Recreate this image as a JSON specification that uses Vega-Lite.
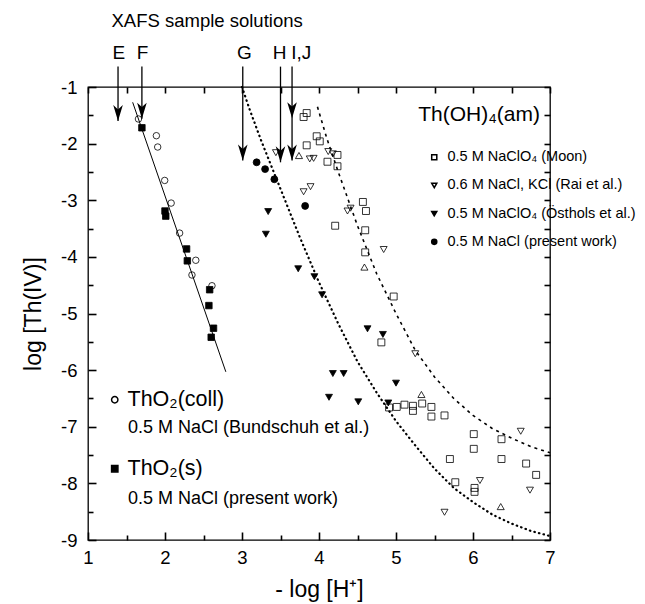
{
  "$schema": "https://vega.github.io/schema/vega-lite/v6.json",
  "width": 462,
  "height": 453,
  "autosize": {"type": "none"},
  "padding": {"left": 88, "top": 87, "right": 95, "bottom": 64},
  "background": "white",
  "config": {
    "font": "Liberation Sans",
    "view": {"stroke": "black", "strokeWidth": 1.3},
    "axis": {"domain": false, "grid": false, "ticks": true, "tickColor": "#000000", "tickOpacity": 1, "tickWidth": 1.6, "labelColor": "black", "titleColor": "black", "labelFont": "Liberation Sans", "titleFont": "Liberation Sans", "titleFontWeight": "normal", "labelFontSize": 18.5, "titleFontSize": 23, "labelFlush": false, "labelOverlap": false}
  },
  "datasets": {
    "thoh": [
      {"x": 3.80, "y": -1.53, "source": "0.5 M NaClO₄ (Moon)"},
      {"x": 3.84, "y": -1.46, "source": "0.5 M NaClO₄ (Moon)"},
      {"x": 3.84, "y": -2.03, "source": "0.5 M NaClO₄ (Moon)"},
      {"x": 3.97, "y": -1.87, "source": "0.5 M NaClO₄ (Moon)"},
      {"x": 4.01, "y": -1.96, "source": "0.5 M NaClO₄ (Moon)"},
      {"x": 4.11, "y": -2.32, "source": "0.5 M NaClO₄ (Moon)"},
      {"x": 4.24, "y": -2.20, "source": "0.5 M NaClO₄ (Moon)"},
      {"x": 4.24, "y": -2.40, "source": "0.5 M NaClO₄ (Moon)"},
      {"x": 4.57, "y": -3.03, "source": "0.5 M NaClO₄ (Moon)"},
      {"x": 4.61, "y": -3.19, "source": "0.5 M NaClO₄ (Moon)"},
      {"x": 4.21, "y": -3.45, "source": "0.5 M NaClO₄ (Moon)"},
      {"x": 4.60, "y": -3.53, "source": "0.5 M NaClO₄ (Moon)"},
      {"x": 4.60, "y": -3.92, "source": "0.5 M NaClO₄ (Moon)"},
      {"x": 4.97, "y": -4.70, "source": "0.5 M NaClO₄ (Moon)"},
      {"x": 4.81, "y": -5.51, "source": "0.5 M NaClO₄ (Moon)"},
      {"x": 4.91, "y": -6.66, "source": "0.5 M NaClO₄ (Moon)"},
      {"x": 5.01, "y": -6.65, "source": "0.5 M NaClO₄ (Moon)"},
      {"x": 5.11, "y": -6.61, "source": "0.5 M NaClO₄ (Moon)"},
      {"x": 5.22, "y": -6.63, "source": "0.5 M NaClO₄ (Moon)"},
      {"x": 5.22, "y": -6.72, "source": "0.5 M NaClO₄ (Moon)"},
      {"x": 5.34, "y": -6.59, "source": "0.5 M NaClO₄ (Moon)"},
      {"x": 5.46, "y": -6.65, "source": "0.5 M NaClO₄ (Moon)"},
      {"x": 5.46, "y": -6.82, "source": "0.5 M NaClO₄ (Moon)"},
      {"x": 5.63, "y": -6.80, "source": "0.5 M NaClO₄ (Moon)"},
      {"x": 6.01, "y": -7.13, "source": "0.5 M NaClO₄ (Moon)"},
      {"x": 6.01, "y": -7.39, "source": "0.5 M NaClO₄ (Moon)"},
      {"x": 5.70, "y": -7.57, "source": "0.5 M NaClO₄ (Moon)"},
      {"x": 6.37, "y": -7.22, "source": "0.5 M NaClO₄ (Moon)"},
      {"x": 6.37, "y": -7.57, "source": "0.5 M NaClO₄ (Moon)"},
      {"x": 6.69, "y": -7.65, "source": "0.5 M NaClO₄ (Moon)"},
      {"x": 6.82, "y": -7.85, "source": "0.5 M NaClO₄ (Moon)"},
      {"x": 5.77, "y": -7.98, "source": "0.5 M NaClO₄ (Moon)"},
      {"x": 6.02, "y": -8.08, "source": "0.5 M NaClO₄ (Moon)"},
      {"x": 6.02, "y": -8.15, "source": "0.5 M NaClO₄ (Moon)"},
      {"x": 3.44, "y": -2.16, "source": "0.6 M NaCl, KCl (Rai et al.)"},
      {"x": 3.88, "y": -2.27, "source": "0.6 M NaCl, KCl (Rai et al.)"},
      {"x": 3.93, "y": -2.26, "source": "0.6 M NaCl, KCl (Rai et al.)"},
      {"x": 4.12, "y": -2.14, "source": "0.6 M NaCl, KCl (Rai et al.)"},
      {"x": 4.18, "y": -2.18, "source": "0.6 M NaCl, KCl (Rai et al.)"},
      {"x": 3.80, "y": -2.85, "source": "0.6 M NaCl, KCl (Rai et al.)"},
      {"x": 3.89, "y": -2.76, "source": "0.6 M NaCl, KCl (Rai et al.)"},
      {"x": 4.37, "y": -3.19, "source": "0.6 M NaCl, KCl (Rai et al.)"},
      {"x": 4.41, "y": -3.14, "source": "0.6 M NaCl, KCl (Rai et al.)"},
      {"x": 4.84, "y": -3.87, "source": "0.6 M NaCl, KCl (Rai et al.)"},
      {"x": 5.25, "y": -5.71, "source": "0.6 M NaCl, KCl (Rai et al.)"},
      {"x": 6.62, "y": -7.08, "source": "0.6 M NaCl, KCl (Rai et al.)"},
      {"x": 6.09, "y": -7.95, "source": "0.6 M NaCl, KCl (Rai et al.)"},
      {"x": 6.74, "y": -8.12, "source": "0.6 M NaCl, KCl (Rai et al.)"},
      {"x": 5.63, "y": -8.51, "source": "0.6 M NaCl, KCl (Rai et al.)"},
      {"x": 3.34, "y": -3.20, "source": "0.5 M NaClO₄ (Östhols et al.)"},
      {"x": 3.31, "y": -3.60, "source": "0.5 M NaClO₄ (Östhols et al.)"},
      {"x": 3.73, "y": -4.21, "source": "0.5 M NaClO₄ (Östhols et al.)"},
      {"x": 3.94, "y": -4.35, "source": "0.5 M NaClO₄ (Östhols et al.)"},
      {"x": 4.04, "y": -4.67, "source": "0.5 M NaClO₄ (Östhols et al.)"},
      {"x": 4.63, "y": -5.27, "source": "0.5 M NaClO₄ (Östhols et al.)"},
      {"x": 4.83, "y": -5.37, "source": "0.5 M NaClO₄ (Östhols et al.)"},
      {"x": 4.18, "y": -6.06, "source": "0.5 M NaClO₄ (Östhols et al.)"},
      {"x": 4.32, "y": -6.06, "source": "0.5 M NaClO₄ (Östhols et al.)"},
      {"x": 5.00, "y": -6.23, "source": "0.5 M NaClO₄ (Östhols et al.)"},
      {"x": 4.13, "y": -6.48, "source": "0.5 M NaClO₄ (Östhols et al.)"},
      {"x": 4.51, "y": -6.56, "source": "0.5 M NaClO₄ (Östhols et al.)"},
      {"x": 4.90, "y": -6.58, "source": "0.5 M NaClO₄ (Östhols et al.)"},
      {"x": 3.19, "y": -2.33, "source": "0.5 M NaCl (present work)"},
      {"x": 3.30, "y": -2.45, "source": "0.5 M NaCl (present work)"},
      {"x": 3.42, "y": -2.63, "source": "0.5 M NaCl (present work)"},
      {"x": 3.82, "y": -3.10, "source": "0.5 M NaCl (present work)"}
    ],
    "up": [
      {"x": 3.74, "y": -2.21},
      {"x": 4.59, "y": -4.18},
      {"x": 5.33, "y": -6.43},
      {"x": 6.36, "y": -8.41}
    ],
    "tho2": [
      {"x": 1.655, "y": -1.565, "phase": "ThO₂(coll)"},
      {"x": 1.888, "y": -1.86, "phase": "ThO₂(coll)"},
      {"x": 1.905, "y": -2.06, "phase": "ThO₂(coll)"},
      {"x": 1.996, "y": -2.65, "phase": "ThO₂(coll)"},
      {"x": 2.08, "y": -3.05, "phase": "ThO₂(coll)"},
      {"x": 2.19, "y": -3.58, "phase": "ThO₂(coll)"},
      {"x": 2.40, "y": -4.06, "phase": "ThO₂(coll)"},
      {"x": 2.35, "y": -4.32, "phase": "ThO₂(coll)"},
      {"x": 2.61, "y": -4.51, "phase": "ThO₂(coll)"},
      {"x": 1.70, "y": -1.72, "phase": "ThO₂(s)"},
      {"x": 2.00, "y": -3.19, "phase": "ThO₂(s)"},
      {"x": 2.01, "y": -3.28, "phase": "ThO₂(s)"},
      {"x": 2.28, "y": -3.86, "phase": "ThO₂(s)"},
      {"x": 2.29, "y": -4.07, "phase": "ThO₂(s)"},
      {"x": 2.58, "y": -4.58, "phase": "ThO₂(s)"},
      {"x": 2.57, "y": -4.86, "phase": "ThO₂(s)"},
      {"x": 2.63, "y": -5.26, "phase": "ThO₂(s)"},
      {"x": 2.60, "y": -5.42, "phase": "ThO₂(s)"}
    ],
    "solid": [
      {"x": 1.58, "y": -1.27},
      {"x": 2.79, "y": -6.03}
    ],
    "dotted": [
      {"x": 3.0, "y": -1.0},
      {"x": 3.1, "y": -1.4},
      {"x": 3.25, "y": -1.95},
      {"x": 3.5, "y": -2.8},
      {"x": 3.75, "y": -3.65},
      {"x": 4.0, "y": -4.45},
      {"x": 4.25, "y": -5.18},
      {"x": 4.5, "y": -5.85},
      {"x": 4.75, "y": -6.4},
      {"x": 5.0, "y": -6.9},
      {"x": 5.25, "y": -7.33},
      {"x": 5.5, "y": -7.74},
      {"x": 5.75, "y": -8.08},
      {"x": 6.0, "y": -8.33},
      {"x": 6.25, "y": -8.55},
      {"x": 6.5, "y": -8.71},
      {"x": 6.75, "y": -8.84},
      {"x": 7.0, "y": -8.93}
    ],
    "dashed": [
      {"x": 3.98, "y": -1.35},
      {"x": 4.1, "y": -1.9},
      {"x": 4.25, "y": -2.5},
      {"x": 4.5, "y": -3.45},
      {"x": 4.75, "y": -4.3},
      {"x": 5.0, "y": -5.0},
      {"x": 5.25, "y": -5.65},
      {"x": 5.5, "y": -6.12},
      {"x": 5.75, "y": -6.5},
      {"x": 6.0, "y": -6.8},
      {"x": 6.25, "y": -7.03},
      {"x": 6.5, "y": -7.2},
      {"x": 6.75, "y": -7.35},
      {"x": 7.0, "y": -7.46}
    ],
    "arrows": [
      {"label": "E", "x": 1.39, "top": -0.64, "tip": -1.6},
      {"label": "F", "x": 1.70, "top": -0.64, "tip": -1.56},
      {"label": "G", "x": 3.01, "top": -0.64, "tip": -2.3},
      {"label": "H", "x": 3.50, "top": -0.64, "tip": -2.33},
      {"label": "I,J", "x": 3.65, "top": -0.64, "tip": -2.3}
    ],
    "heads": [
      {"x": 1.39, "y": -1.6},
      {"x": 1.70, "y": -1.56},
      {"x": 3.01, "y": -2.3},
      {"x": 3.50, "y": -2.33},
      {"x": 3.65, "y": -1.55},
      {"x": 3.65, "y": -2.3}
    ],
    "letters": [
      {"text": "E", "x": 1.40, "y": -0.40},
      {"text": "F", "x": 1.71, "y": -0.40},
      {"text": "G", "x": 3.03, "y": -0.40},
      {"text": "H", "x": 3.49, "y": -0.40},
      {"text": "I,J", "x": 3.77, "y": -0.40}
    ],
    "heading": [
      {"text": "XAFS sample solutions", "x": 1.305, "y": 0.17}
    ],
    "phaseTitle": [
      {"text": "Th(OH)₄(am)", "x": 6.87, "y": -1.5}
    ],
    "sublines": [
      {"text": "0.5 M NaCl (Bundschuh et al.)", "x": 1.52, "y": -7.02},
      {"text": "0.5 M NaCl (present work)", "x": 1.52, "y": -8.27}
    ]
  },
  "layer": [
    {
      "data": {"name": "solid"},
      "mark": {"type": "line", "color": "black", "strokeWidth": 1},
      "encoding": {
        "x": {"field": "x", "type": "quantitative", "scale": {"domain": [1, 7], "nice": false, "zero": false},
              "axis": {"orient": "bottom", "values": [1, 2, 3, 4, 5, 6, 7], "tickSize": -8, "labelPadding": 16, "title": "- log [H⁺]", "titlePadding": 12}},
        "y": {"field": "y", "type": "quantitative", "scale": {"domain": [-9, -1], "nice": false, "zero": false},
              "axis": {"orient": "left", "values": [-1, -2, -3, -4, -5, -6, -7, -8, -9], "tickSize": -8, "labelPadding": 19, "labelExpr": "datum.value + ''", "title": "log [Th(IV)]", "titlePadding": 15}}
      }
    },
    {
      "data": {"name": "dotted"},
      "mark": {"type": "line", "color": "black", "strokeWidth": 2.2, "strokeDash": [0.5, 4.2], "strokeCap": "round"},
      "encoding": {
        "x": {"field": "x", "type": "quantitative", "scale": {"domain": [1, 7], "nice": false, "zero": false},
              "axis": {"orient": "bottom", "values": [1.5, 2.5, 3.5, 4.5, 5.5, 6.5], "tickSize": -5, "labels": false, "title": null}},
        "y": {"field": "y", "type": "quantitative", "scale": {"domain": [-9, -1], "nice": false, "zero": false},
              "axis": {"orient": "left", "values": [-1.5, -2.5, -3.5, -4.5, -5.5, -6.5, -7.5, -8.5], "tickSize": -5, "labels": false, "title": null}}
      }
    },
    {
      "data": {"name": "dashed"},
      "mark": {"type": "line", "color": "black", "strokeWidth": 1.6, "strokeDash": [3, 4]},
      "encoding": {
        "x": {"field": "x", "type": "quantitative", "scale": {"domain": [1, 7], "nice": false, "zero": false},
              "axis": {"orient": "top", "values": [1, 1.5, 2, 2.5, 3, 3.5, 4, 4.5, 5, 5.5, 6, 6.5, 7], "tickSize": -6, "labels": false, "title": null}},
        "y": {"field": "y", "type": "quantitative", "scale": {"domain": [-9, -1], "nice": false, "zero": false},
              "axis": {"orient": "right", "values": [-1, -1.5, -2, -2.5, -3, -3.5, -4, -4.5, -5, -5.5, -6, -6.5, -7, -7.5, -8, -8.5, -9], "tickSize": -6, "labels": false, "title": null}}
      }
    },
    {
      "data": {"name": "arrows"},
      "mark": {"type": "rule", "color": "black", "strokeWidth": 1.3},
      "encoding": {
        "x": {"field": "x", "type": "quantitative", "scale": {"domain": [1, 7], "nice": false, "zero": false}, "axis": null},
        "y": {"field": "top", "type": "quantitative", "scale": {"domain": [-9, -1], "nice": false, "zero": false}, "axis": null},
        "y2": {"field": "tip"}
      }
    },
    {
      "data": {"name": "heads"},
      "mark": {"type": "point", "filled": true, "color": "black", "opacity": 1, "size": 256, "shape": "M0,0 L-0.6,-2 L0,-1.45 L0.6,-2 Z"},
      "encoding": {
        "x": {"field": "x", "type": "quantitative", "scale": {"domain": [1, 7], "nice": false, "zero": false}, "axis": null},
        "y": {"field": "y", "type": "quantitative", "scale": {"domain": [-9, -1], "nice": false, "zero": false}, "axis": null}
      }
    },
    {
      "data": {"name": "letters"},
      "mark": {"type": "text", "fontSize": 19, "align": "center", "baseline": "middle", "color": "black"},
      "encoding": {
        "x": {"field": "x", "type": "quantitative", "scale": {"domain": [1, 7], "nice": false, "zero": false}, "axis": null},
        "y": {"field": "y", "type": "quantitative", "scale": {"domain": [-9, -1], "nice": false, "zero": false}, "axis": null},
        "text": {"field": "text"}
      }
    },
    {
      "data": {"name": "heading"},
      "mark": {"type": "text", "fontSize": 18.5, "align": "left", "baseline": "middle", "color": "black"},
      "encoding": {
        "x": {"field": "x", "type": "quantitative", "scale": {"domain": [1, 7], "nice": false, "zero": false}, "axis": null},
        "y": {"field": "y", "type": "quantitative", "scale": {"domain": [-9, -1], "nice": false, "zero": false}, "axis": null},
        "text": {"field": "text"}
      }
    },
    {
      "data": {"name": "phaseTitle"},
      "mark": {"type": "text", "fontSize": 21, "align": "right", "baseline": "middle", "color": "black"},
      "encoding": {
        "x": {"field": "x", "type": "quantitative", "scale": {"domain": [1, 7], "nice": false, "zero": false}, "axis": null},
        "y": {"field": "y", "type": "quantitative", "scale": {"domain": [-9, -1], "nice": false, "zero": false}, "axis": null},
        "text": {"field": "text"}
      }
    },
    {
      "data": {"name": "sublines"},
      "mark": {"type": "text", "fontSize": 18, "align": "left", "baseline": "middle", "color": "black"},
      "encoding": {
        "x": {"field": "x", "type": "quantitative", "scale": {"domain": [1, 7], "nice": false, "zero": false}, "axis": null},
        "y": {"field": "y", "type": "quantitative", "scale": {"domain": [-9, -1], "nice": false, "zero": false}, "axis": null},
        "text": {"field": "text"}
      }
    },
    {
      "data": {"name": "up"},
      "mark": {"type": "point", "shape": "triangle-up", "filled": false, "stroke": "black", "strokeWidth": 0.8, "size": 50, "opacity": 1},
      "encoding": {
        "x": {"field": "x", "type": "quantitative", "scale": {"domain": [1, 7], "nice": false, "zero": false}, "axis": null},
        "y": {"field": "y", "type": "quantitative", "scale": {"domain": [-9, -1], "nice": false, "zero": false}, "axis": null}
      }
    },
    {
      "data": {"name": "thoh"},
      "mark": {"type": "point", "filled": true, "stroke": "black", "strokeWidth": 0.8, "size": 48, "opacity": 1},
      "encoding": {
        "x": {"field": "x", "type": "quantitative", "scale": {"domain": [1, 7], "nice": false, "zero": false}, "axis": null},
        "y": {"field": "y", "type": "quantitative", "scale": {"domain": [-9, -1], "nice": false, "zero": false}, "axis": null},
        "shape": {"field": "source", "type": "nominal",
          "scale": {"domain": ["0.5 M NaClO₄ (Moon)", "0.6 M NaCl, KCl (Rai et al.)", "0.5 M NaClO₄ (Östhols et al.)", "0.5 M NaCl (present work)"], "range": ["square", "triangle-down", "triangle-down", "circle"]},
          "legend": {"orient": "none", "legendX": 339, "legendY": 63, "title": null, "padding": 0, "labelFontSize": 14.5, "labelColor": "black", "labelOffset": 6, "rowPadding": 13.2, "symbolSize": 26, "labelLimit": 400,
                     "encode": {"symbols": {"update": {"stroke": {"value": "black"}, "strokeWidth": {"value": 0.8}}}}}},
        "fill": {"field": "source", "type": "nominal",
          "scale": {"domain": ["0.5 M NaClO₄ (Moon)", "0.6 M NaCl, KCl (Rai et al.)", "0.5 M NaClO₄ (Östhols et al.)", "0.5 M NaCl (present work)"], "range": ["transparent", "transparent", "black", "black"]},
          "legend": {"orient": "none", "legendX": 339, "legendY": 63, "title": null, "padding": 0, "labelFontSize": 14.5, "labelColor": "black", "labelOffset": 6, "rowPadding": 13.2, "symbolSize": 26, "labelLimit": 400,
                     "encode": {"symbols": {"update": {"stroke": {"value": "black"}, "strokeWidth": {"value": 0.8}}}}}}
      }
    },
    {
      "data": {"name": "tho2"},
      "mark": {"type": "point", "filled": true, "stroke": "black", "strokeWidth": 0.8, "size": 42, "opacity": 1},
      "encoding": {
        "x": {"field": "x", "type": "quantitative", "scale": {"domain": [1, 7], "nice": false, "zero": false}, "axis": null},
        "y": {"field": "y", "type": "quantitative", "scale": {"domain": [-9, -1], "nice": false, "zero": false}, "axis": null},
        "shape": {"field": "phase", "type": "nominal",
          "scale": {"domain": ["ThO₂(coll)", "ThO₂(s)"], "range": ["circle", "square"]},
          "legend": {"orient": "none", "legendX": 16, "legendY": 302, "title": null, "padding": 0, "labelFontSize": 21.5, "labelColor": "black", "labelOffset": 2, "rowPadding": 46, "symbolSize": 40, "labelLimit": 300,
                     "encode": {"symbols": {"update": {"stroke": {"value": "black"}, "strokeWidth": {"value": 0.8}}}}}},
        "fill": {"field": "phase", "type": "nominal",
          "scale": {"domain": ["ThO₂(coll)", "ThO₂(s)"], "range": ["transparent", "black"]},
          "legend": {"orient": "none", "legendX": 16, "legendY": 302, "title": null, "padding": 0, "labelFontSize": 21.5, "labelColor": "black", "labelOffset": 2, "rowPadding": 46, "symbolSize": 40, "labelLimit": 300,
                     "encode": {"symbols": {"update": {"stroke": {"value": "black"}, "strokeWidth": {"value": 0.8}}}}}}
      }
    }
  ],
  "resolve": {
    "scale": {"shape": "independent", "fill": "independent"},
    "axis": {"x": "independent", "y": "independent"}
  }
}
